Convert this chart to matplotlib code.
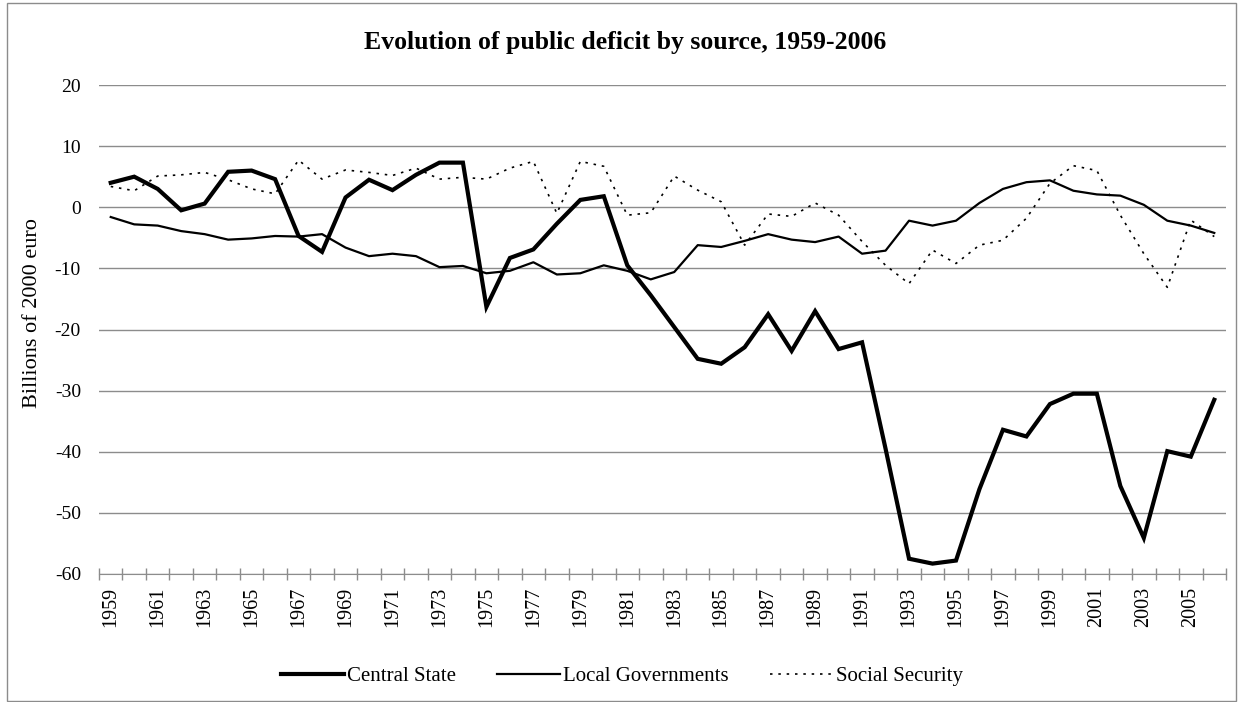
import matplotlib
matplotlib.use("Agg")
import matplotlib.pyplot as plt
from matplotlib.patches import Rectangle

years = list(range(1959, 2007))

central_state = [4.0, 5.0, 3.0, -0.5, 0.6, 5.8, 6.0, 4.6, -4.7, -7.3,
                 1.6, 4.5, 2.8, 5.3, 7.3, 7.3, -16.3, -8.3, -6.9, -2.7,
                 1.2, 1.8, -9.5, -14.4, -19.6, -24.8, -25.6, -22.9, -17.5, -23.5,
                 -17.0, -23.2, -22.1, -39.5, -57.5, -58.3, -57.8, -46.1, -36.4, -37.5,
                 -32.2, -30.5, -30.5, -45.6, -54.1, -39.9, -40.8, -31.5]

local_governments = [-1.6, -2.8, -3.0, -3.9, -4.4, -5.3, -5.1, -4.7, -4.8, -4.4,
                     -6.6, -8.0, -7.6, -8.0, -9.8, -9.6, -10.8, -10.4, -9.0, -11.0,
                     -10.8, -9.5, -10.4, -11.8, -10.6, -6.2, -6.5, -5.5, -4.4, -5.3,
                     -5.7, -4.8, -7.6, -7.1, -2.2, -3.0, -2.2, 0.7, 3.0, 4.1,
                     4.4, 2.7, 2.1, 1.9, 0.4, -2.2, -3.0, -4.2]

social_security = [3.4, 2.7, 5.1, 5.3, 5.7, 4.5, 3.0, 2.2, 7.7, 4.6,
                   6.1, 5.7, 5.2, 6.4, 4.6, 4.9, 4.6, 6.4, 7.5, -1.0,
                   7.5, 6.7, -1.3, -0.9, 5.1, 2.8, 0.9, -6.2, -1.1, -1.5,
                   0.7, -1.3, -5.6, -9.5, -12.5, -7.0, -9.2, -6.2, -5.4, -1.8,
                   3.9, 6.8, 6.0, -1.3, -7.6, -13.1, -2.1, -4.8]

plt.rcParams['font.family'] = ['Liberation Serif', 'DejaVu Serif']
plt.rcParams['axes.unicode_minus'] = False

fig = plt.figure(figsize=(12.38, 7.02), dpi=100)
ax = fig.add_axes([99 / 1238, 1 - 574 / 702, (1226 - 99) / 1238, (574 - 85) / 702])

x = list(range(len(years)))
ax.plot(x, central_state, color='black', lw=3.0, solid_joinstyle='miter', label='Central State')
ax.plot(x, local_governments, color='black', lw=1.6, label='Local Governments')
ax.plot(x, social_security, color='black', lw=1.2, linestyle=(0, (1.5, 3.5)), label='Social Security')

ax.set_xlim(-0.5, len(years) - 0.5)
ax.set_ylim(-60, 20)
ax.set_yticks(range(-60, 21, 10))
ax.yaxis.grid(True, color='#8c8c8c', lw=1)
ax.set_axisbelow(True)
ax.tick_params(axis='y', length=0, labelsize=14, pad=13)

ax.set_xticks(x[::2])
ax.set_xticklabels([str(y) for y in years[::2]], rotation=90, fontsize=14.5)
ax.set_xticks([i - 0.5 for i in range(len(years) + 1)], minor=True)
ax.tick_params(axis='x', which='major', length=0, pad=9)
ax.tick_params(axis='x', which='minor', length=9, direction='inout', color='#8c8c8c', width=1)

for s in ['top', 'right', 'left']:
    ax.spines[s].set_visible(False)
ax.spines['bottom'].set_color('#8c8c8c')

fig.text(625 / 1238, 1 - 42 / 702, 'Evolution of public deficit by source, 1959-2006',
         ha='center', va='center', fontsize=18.5, fontweight='bold')
fig.text(33 / 1238, 1 - 313 / 702, 'Billions of 2000 euro', rotation=90,
         ha='center', va='center', fontsize=16)

fig.legend(loc='center', bbox_to_anchor=(622 / 1238, 1 - 676 / 702), ncol=3,
           frameon=False, fontsize=15, handlelength=3.0, columnspacing=2.0, handletextpad=0.15)

fig.patches.append(Rectangle((7 / 1238, 1 / 702), 1229 / 1238, 698 / 702,
                             transform=fig.transFigure, fill=False, edgecolor='#8c8c8c', lw=1))

fig.savefig('out.png', dpi=100)
